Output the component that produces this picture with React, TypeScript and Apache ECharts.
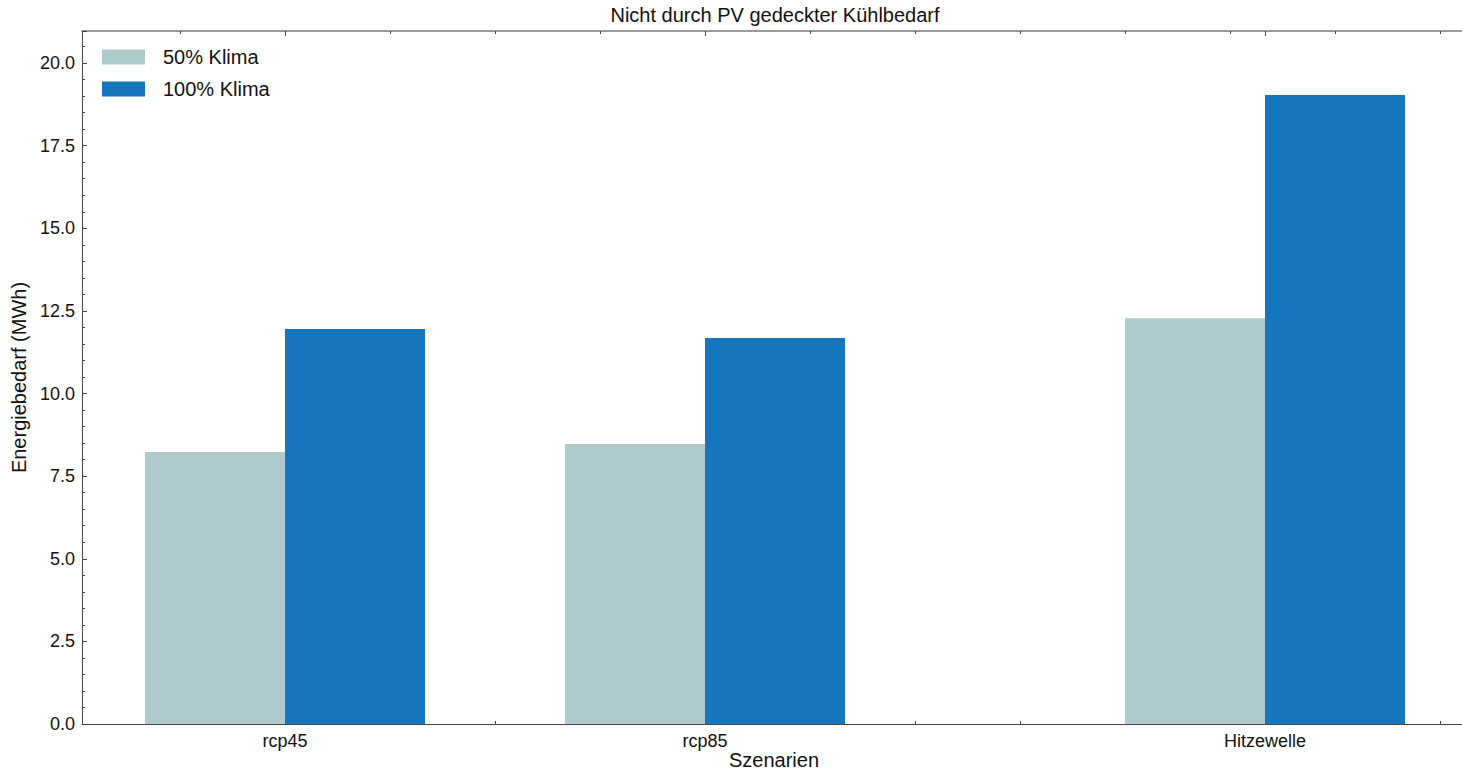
import React, { useEffect, useRef } from "react";
import * as echarts from "echarts";

const categories = ["rcp45", "rcp85", "Hitzewelle"];
const positions = [0, 3, 7];
const klima50 = [8.23, 8.47, 12.28];
const klima100 = [11.95, 11.68, 19.03];
const seriesNames = ["50% Klima", "100% Klima"];
const yTicks = [0, 2.5, 5, 7.5, 10, 12.5, 15, 17.5, 20];
const xMinorTicks = [-0.75, 0, 0.75, 1.5, 2.25, 3, 3.75, 4.5, 5.25, 6, 6.75, 7.5, 8.25];

const COLORS = ["#aecacd", "#1576bd"];
const FONT = "'Liberation Sans', Arial, Helvetica, sans-serif";
const AXIS_COLOR = "#444";

export default function App() {
  const ref = useRef<HTMLDivElement>(null);
  useEffect(() => {
    if (!ref.current) return;
    const chart = echarts.init(ref.current, null, { renderer: "svg" });

    const makeBar = (name: string, values: number[], color: string, o0: number, o1: number) => ({
      type: "custom",
      name,
      xAxisIndex: 0,
      yAxisIndex: 0,
      itemStyle: { color },
      encode: { x: 0, y: 1 },
      data: positions.map((p, i) => [p, values[i]]),
      renderItem: (params: any, api: any) => {
        const x = api.value(0);
        const y = api.value(1);
        const a = api.coord([x + o0, y]);
        const b = api.coord([x + o1, 0]);
        return {
          type: "rect",
          shape: { x: a[0], y: a[1], width: b[0] - a[0], height: b[1] - a[1] },
          style: { fill: color },
        };
      },
    });

    const tickFmt = (v: number) => (yTicks.some((t) => Math.abs(t - v) < 1e-6) ? v.toFixed(1) : "");

    const baseX = { type: "value", min: -1.45, max: 8.45, splitLine: { show: false } };

    const option: any = {
      animation: false,
      backgroundColor: "#ffffff",
      textStyle: { fontFamily: FONT },
      grid: {
        left: 82,
        top: 31,
        width: 1386,
        height: 693,
        containLabel: false,
        outerBoundsMode: "none",
      },
      legend: {
        orient: "vertical",
        left: 102,
        top: 47,
        itemWidth: 43,
        itemHeight: 15,
        itemGap: 12,
        padding: 0,
        icon: "rect",
        data: seriesNames,
        textStyle: { fontSize: 20, color: "#111", fontFamily: FONT, padding: [0, 0, 0, 13] },
      },
      graphic: [
        {
          type: "text",
          x: 775,
          y: 15,
          style: {
            text: "Nicht durch PV gedeckter Kühlbedarf",
            align: "center",
            verticalAlign: "middle",
            fontSize: 20,
            fontFamily: FONT,
            fill: "#111",
          },
        },
        {
          type: "text",
          x: 774,
          y: 760,
          style: {
            text: "Szenarien",
            align: "center",
            verticalAlign: "middle",
            fontSize: 20,
            fontFamily: FONT,
            fill: "#111",
          },
        },
      ],
      xAxis: [
        {
          ...baseX,
          position: "bottom",
          axisLine: { show: true, onZero: false, lineStyle: { color: AXIS_COLOR, width: 1 } },
          axisTick: { show: true, inside: true, length: 5, customValues: positions, lineStyle: { color: AXIS_COLOR } },
          axisLabel: {
            show: true,
            customValues: positions,
            margin: 8,
            fontSize: 18,
            color: "#111",
            fontFamily: FONT,
            formatter: (v: number) => {
              const i = positions.findIndex((p) => Math.abs(p - v) < 1e-6);
              return i >= 0 ? categories[i] : "";
            },
          },
        },
        {
          ...baseX,
          position: "bottom",
          axisLine: { show: false, onZero: false },
          axisTick: { show: true, inside: true, length: 3, customValues: xMinorTicks, lineStyle: { color: AXIS_COLOR } },
          axisLabel: { show: false },
        },
        {
          ...baseX,
          position: "top",
          axisLine: { show: true, onZero: false, lineStyle: { color: "#999", width: 2 } },
          axisTick: { show: true, inside: true, length: 3, customValues: xMinorTicks, lineStyle: { color: AXIS_COLOR } },
          axisLabel: { show: false },
        },
        {
          ...baseX,
          position: "top",
          axisLine: { show: false, onZero: false },
          axisTick: { show: true, inside: true, length: 5, customValues: positions, lineStyle: { color: AXIS_COLOR } },
          axisLabel: { show: false },
        },
      ],
      yAxis: [
        {
          type: "value",
          position: "left",
          min: 0,
          max: 20.97,
          interval: 2.5,
          name: "Energiebedarf (MWh)",
          nameLocation: "middle",
          nameGap: 52,
          nameTextStyle: { fontSize: 20, color: "#111", fontFamily: FONT },
          axisLine: { show: true, onZero: false, lineStyle: { color: AXIS_COLOR, width: 1 } },
          axisTick: { show: true, inside: true, length: 5, lineStyle: { color: AXIS_COLOR } },
          minorTick: { show: true, splitNumber: 5, length: 3, lineStyle: { color: AXIS_COLOR } },
          axisLabel: { show: true, margin: 7, fontSize: 18, color: "#111", fontFamily: FONT, formatter: tickFmt },
          splitLine: { show: false },
          minorSplitLine: { show: false },
        },
      ],
      series: [
        makeBar(seriesNames[0], klima50, COLORS[0], -1, 0),
        makeBar(seriesNames[1], klima100, COLORS[1], 0, 1),
      ],
    };

    chart.setOption(option);
    return () => chart.dispose();
  }, []);

  return (
    <div
      ref={ref}
      style={{ position: "fixed", left: 0, top: 0, width: 1462, height: 771, background: "#fff" }}
    />
  );
}
